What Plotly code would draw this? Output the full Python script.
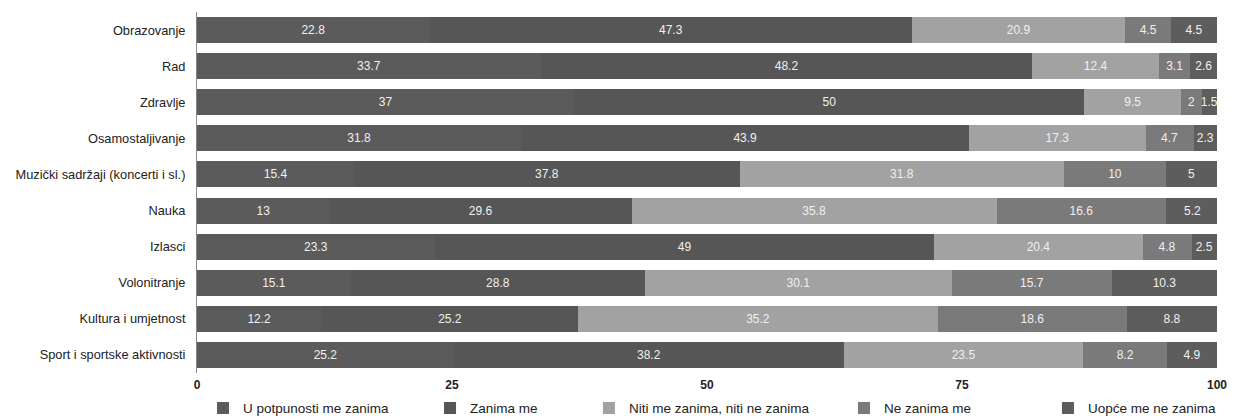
import plotly.graph_objects as go

categories = ["Obrazovanje", "Rad", "Zdravlje", "Osamostaljivanje",
              "Muzički sadržaji (koncerti i sl.)", "Nauka", "Izlasci",
              "Volonitranje", "Kultura i umjetnost", "Sport i sportske aktivnosti"]

series_names = ["U potpunosti me zanima", "Zanima me",
                "Niti me zanima, niti ne zanima", "Ne zanima me",
                "Uopće me ne zanima"]

u_potpunosti = [22.8, 33.7, 37, 31.8, 15.4, 13, 23.3, 15.1, 12.2, 25.2]
zanima_me = [47.3, 48.2, 50, 43.9, 37.8, 29.6, 49, 28.8, 25.2, 38.2]
niti_niti = [20.9, 12.4, 9.5, 17.3, 31.8, 35.8, 20.4, 30.1, 35.2, 23.5]
ne_zanima = [4.5, 3.1, 2, 4.7, 10, 16.6, 4.8, 15.7, 18.6, 8.2]
uopce_ne = [4.5, 2.6, 1.5, 2.3, 5, 5.2, 2.5, 10.3, 8.8, 4.9]

x_ticks = [0, 25, 50, 75, 100]

values = [u_potpunosti, zanima_me, niti_niti, ne_zanima, uopce_ne]
colors = ["#5b5b5b", "#565656", "#a2a2a2", "#7a7a7a", "#5d5d5d"]
legend_ids = ["legend", "legend2", "legend3", "legend4", "legend5"]
legend_x = [0.1587, 0.3434, 0.4727, 0.6802, 0.8462]

FONT = "Liberation Sans, Arial, sans-serif"

fig = go.Figure()
for name, vals, col, lg in zip(series_names, values, colors, legend_ids):
    fig.add_trace(go.Bar(
        y=categories, x=vals, name=name, orientation="h",
        marker=dict(color=col, line=dict(width=0)),
        text=[str(v) for v in vals], textposition="inside", textangle=0,
        insidetextanchor="middle", constraintext="none",
        textfont=dict(color="#f0f0f0", size=12, family=FONT),
        legend=lg,
    ))

layout_legends = {}
for lg, lx in zip(legend_ids, legend_x):
    layout_legends[lg] = dict(
        x=lx, y=0.064, xref="container", yref="container",
        xanchor="left", yanchor="top", orientation="v",
        font=dict(size=13.5, family=FONT, color="#222"),
        bgcolor="rgba(0,0,0,0)", itemwidth=30,
    )

fig.update_layout(
    barmode="stack",
    bargap=0.28,
    width=1229, height=411,
    margin=dict(l=189, r=20, t=4, b=46, autoexpand=False),
    paper_bgcolor="white", plot_bgcolor="white",
    font=dict(family=FONT, size=12, color="#222"),
    uniformtext=dict(minsize=12, mode="show"),
    showlegend=True,
    xaxis=dict(range=[0, 100], tickvals=x_ticks,
               ticktext=["<b>" + str(t) + "</b>" for t in x_ticks],
               showgrid=False, zeroline=False, showline=False,
               tickfont=dict(size=12, family=FONT, color="#222"), ticks="",
               ticklabelstandoff=3),
    yaxis=dict(autorange="reversed", showgrid=False, zeroline=False,
               showline=True, linecolor="#888", linewidth=1,
               tickfont=dict(size=12.8, family=FONT, color="#222"), ticks="",
               ticklabelstandoff=8),
    **layout_legends,
)

fig.write_html("out.html")
